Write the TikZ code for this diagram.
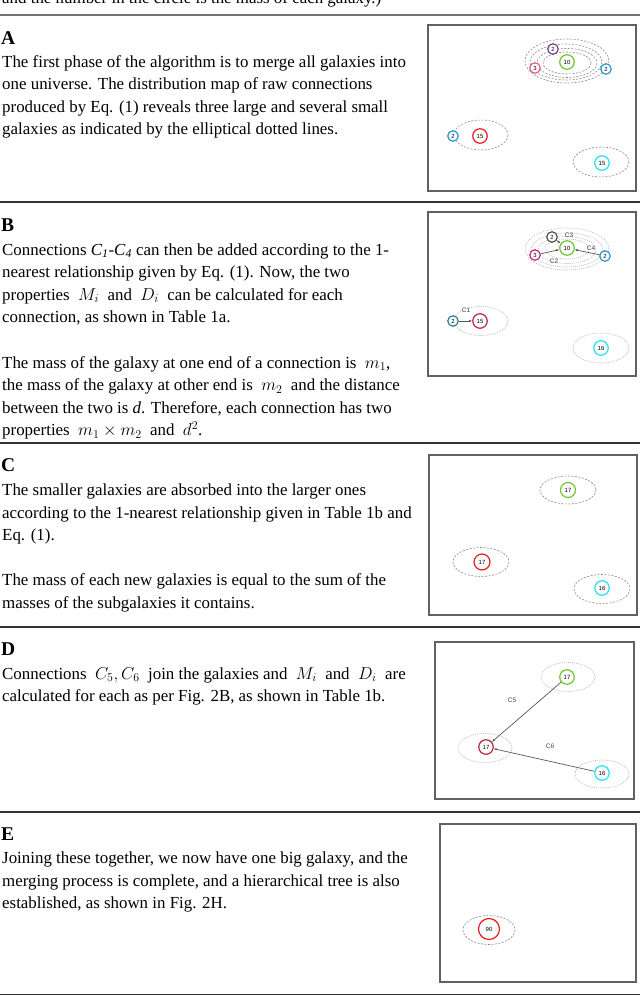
\documentclass[tikz,border=0pt]{standalone}
\usepackage{fontspec}
\setmainfont{Liberation Serif}
\newfontfamily\numfont{Liberation Sans}
\usetikzlibrary{arrows.meta}
\definecolor{gpurple}{RGB}{125,60,140}
\definecolor{ggreen}{RGB}{110,200,50}
\definecolor{gpink}{RGB}{232,90,130}
\definecolor{gblue}{RGB}{40,150,210}
\definecolor{gred}{RGB}{232,30,35}
\definecolor{gcyan}{RGB}{40,225,240}
\definecolor{gdark}{RGB}{80,80,80}
\definecolor{gmag}{RGB}{200,40,120}
\definecolor{gteal}{RGB}{40,130,160}
\definecolor{gcrim}{RGB}{190,40,60}
\begin{document}
\begin{tikzpicture}[x=1pt,y=-1pt,
  txt/.style={anchor=base west, inner sep=0pt, font=\fontsize{16.9}{19}\selectfont},
  lbl/.style={anchor=base west, inner sep=0pt, font=\fontsize{19.5}{22}\selectfont\bfseries},
  frame/.style={draw=black!62, line width=1.3pt},
  rule/.style={draw=black!80, line width=1.6pt},
  gal/.style={circle, draw=#1, line width=1.2pt, fill=white, inner sep=0pt, font=\numfont\fontsize{6}{6}\selectfont},
  smallg/.style={minimum size=10.5pt},
  bigg/.style={minimum size=14.5pt},
  hugeg/.style={minimum size=21pt},
  ell/.style={draw=black!45, line width=0.6pt, dash pattern=on 2pt off 1.5pt},
  lell/.style={draw=black!28, line width=0.6pt, dash pattern=on 1pt off 1pt},
  clab/.style={inner sep=0pt, font=\numfont\fontsize{6.5}{7}\selectfont, text=black!75},
  conn/.style={draw=black!65, line width=0.7pt, -{Latex[length=3pt,width=2.5pt]}}
]
\useasboundingbox (0,0) rectangle (640,996);
\fill[white] (0,0) rectangle (640,996);

% top partial text and rules
\node[txt] (toptext) at (2,3.5) {and the number in the circle is the mass of each galaxy.)};
\draw[draw=black!55, line width=2pt] (0,14.5) -- (640,14.5);
\draw[rule] (0,202) -- (640,202);
\draw[rule] (0,443) -- (640,443);
\draw[rule] (0,627) -- (640,627);
\draw[rule] (0,812) -- (640,812);
\draw[rule] (0,994.5) -- (640,994.5);

% ---------- A ----------
\node[lbl] (la) at (1,44) {A};
\node[txt] (a1) at (2,67) {The first phase of the algorithm is to merge all galaxies into};
\node[txt] (a2) at (2,89.5) {one universe. The distribution map of raw connections};
\node[txt] (a3) at (2,112) {produced by Eq. (1) reveals three large and several small};
\node[txt] (a4) at (2,134.5) {galaxies as indicated by the elliptical dotted lines.};
\draw[frame] (428,25) rectangle (636,191);
\draw[ell] (567,61) ellipse [x radius=42, y radius=22];
\draw[ell] (566,62) ellipse [x radius=36, y radius=18];
\draw[ell] (567,63) ellipse [x radius=30, y radius=14.5];
\draw[ell] (567,63) ellipse [x radius=24, y radius=11];
\draw[ell] (481,135) ellipse [x radius=27, y radius=15];
\draw[ell] (601,162) ellipse [x radius=28, y radius=15];
\node[gal=gpurple, smallg] (a2p) at (553,49) {2};
\node[gal=ggreen, bigg] (a10) at (567,62) {10};
\node[gal=gpink, smallg] (a3p) at (535,68) {3};
\node[gal=gblue, smallg] (a2b) at (606,69) {2};
\node[gal=gblue, smallg] (a2l) at (453,136) {2};
\node[gal=gred, bigg] (a15) at (480,136) {15};
\node[gal=gcyan, bigg] (a15c) at (602,163) {15};

% ---------- B ----------
\node[lbl] (lb) at (1,231) {B};
\node[txt] (b1) at (2,255) {Connections \textit{C\textsubscript{1}}-\textit{C\textsubscript{4}} can then be added according to the 1-};
\node[txt] (b2) at (2,277.5) {nearest relationship given by Eq. (1). Now, the two};
\node[txt] (b3) at (2,300) {properties \ $M_i$ \ and \ $D_i$ \ can be calculated for each};
\node[txt] (b4) at (2,322.5) {connection, as shown in Table 1a.};
\node[txt] (b5) at (2,368) {The mass of the galaxy at one end of a connection is \ $m_1$,};
\node[txt] (b6) at (2,390.5) {the mass of the galaxy at other end is \ $m_2$ \ and the distance};
\node[txt] (b7) at (2,413) {between the two is \textit{d}. Therefore, each connection has two};
\node[txt] (b8) at (2,435.5) {properties \ $m_1\times m_2$ \ and \ $d^2$.};
\draw[frame] (428,212) rectangle (636,376);
\draw[lell] (567,249) ellipse [x radius=42, y radius=21];
\draw[lell] (567,250) ellipse [x radius=36, y radius=17];
\draw[lell] (567,250) ellipse [x radius=29, y radius=13.5];
\draw[lell] (567,249) ellipse [x radius=22, y radius=10];
\draw[lell] (481,321) ellipse [x radius=27, y radius=14.5];
\draw[lell] (601,348) ellipse [x radius=28, y radius=15];
\node[gal=gdark, smallg] (b2g) at (552,237) {2};
\node[gal=ggreen, bigg] (b10) at (567,248) {10};
\node[gal=gmag, smallg] (b3m) at (535,255) {3};
\node[gal=gblue, smallg] (b2b) at (605,256) {2};
\node[gal=gteal, smallg] (b2t) at (453,321) {2};
\node[gal=gcrim, bigg] (b15) at (480,321) {15};
\node[gal=gcyan, bigg] (b16) at (601,348) {16};
\draw[conn] (b2g) -- (b10);
\draw[conn] (b3m) -- (b10);
\draw[conn] (b2b) -- (b10);
\draw[conn] (b2t) -- (b15);
\node[clab] (c1) at (466,310) {C1};
\node[clab] (c2) at (554,261) {C2};
\node[clab] (c3) at (569,235) {C3};
\node[clab] (c4) at (591,248) {C4};

% ---------- C ----------
\node[lbl] (lc) at (1,471) {C};
\node[txt] (cc1) at (2,495.5) {The smaller galaxies are absorbed into the larger ones};
\node[txt] (cc2) at (2,518) {according to the 1-nearest relationship given in Table 1b and};
\node[txt] (cc3) at (2,540.5) {Eq. (1).};
\node[txt] (cc4) at (2,585.5) {The mass of each new galaxies is equal to the sum of the};
\node[txt] (cc5) at (2,608) {masses of the subgalaxies it contains.};
\draw[frame] (429,455) rectangle (637,615);
\draw[ell] (568,490) ellipse [x radius=28, y radius=14];
\draw[ell] (481,562) ellipse [x radius=28, y radius=14.5];
\draw[ell] (602,589) ellipse [x radius=28, y radius=14.5];
\node[gal=ggreen, minimum size=15pt] (c17g) at (568,490) {17};
\node[gal=gred, minimum size=16pt] (c17r) at (482,562) {17};
\node[gal=gcyan, bigg] (c16) at (602,588) {16};

% ---------- D ----------
\node[lbl] (ld) at (1,655) {D};
\node[txt] (d1) at (2,679) {Connections \ $C_5,C_6$ \ join the galaxies and \ $M_i$ \ and \ $D_i$ \ are};
\node[txt] (d2) at (2,701.5) {calculated for each as per Fig. 2B, as shown in Table 1b.};
\draw[frame] (435,642) rectangle (634,799);
\draw[lell] (568,677) ellipse [x radius=27, y radius=14.5];
\draw[lell] (485,748) ellipse [x radius=27, y radius=14.5];
\draw[lell] (602,774) ellipse [x radius=27, y radius=14];
\node[gal=ggreen, bigg] (d17g) at (567,677) {17};
\node[gal=gcrim, bigg] (d17r) at (486,747) {17};
\node[gal=gcyan, bigg] (d16) at (602,773) {16};
\draw[conn] (d17g) -- (d17r);
\draw[conn] (d16) -- (d17r);
\node[clab] (c5) at (512,700) {C5};
\node[clab] (c6) at (550,746) {C6};

% ---------- E ----------
\node[lbl] (le) at (1,840) {E};
\node[txt] (e1) at (2,863.5) {Joining these together, we now have one big galaxy, and the};
\node[txt] (e2) at (2,886) {merging process is complete, and a hierarchical tree is also};
\node[txt] (e3) at (2,908.5) {established, as shown in Fig. 2H.};
\draw[frame] (440,824) rectangle (636,982);
\draw[ell] (489,930) ellipse [x radius=26, y radius=14.5];
\node[gal=gred, hugeg] (e90) at (489,929) {90};
\end{tikzpicture}
\end{document}
